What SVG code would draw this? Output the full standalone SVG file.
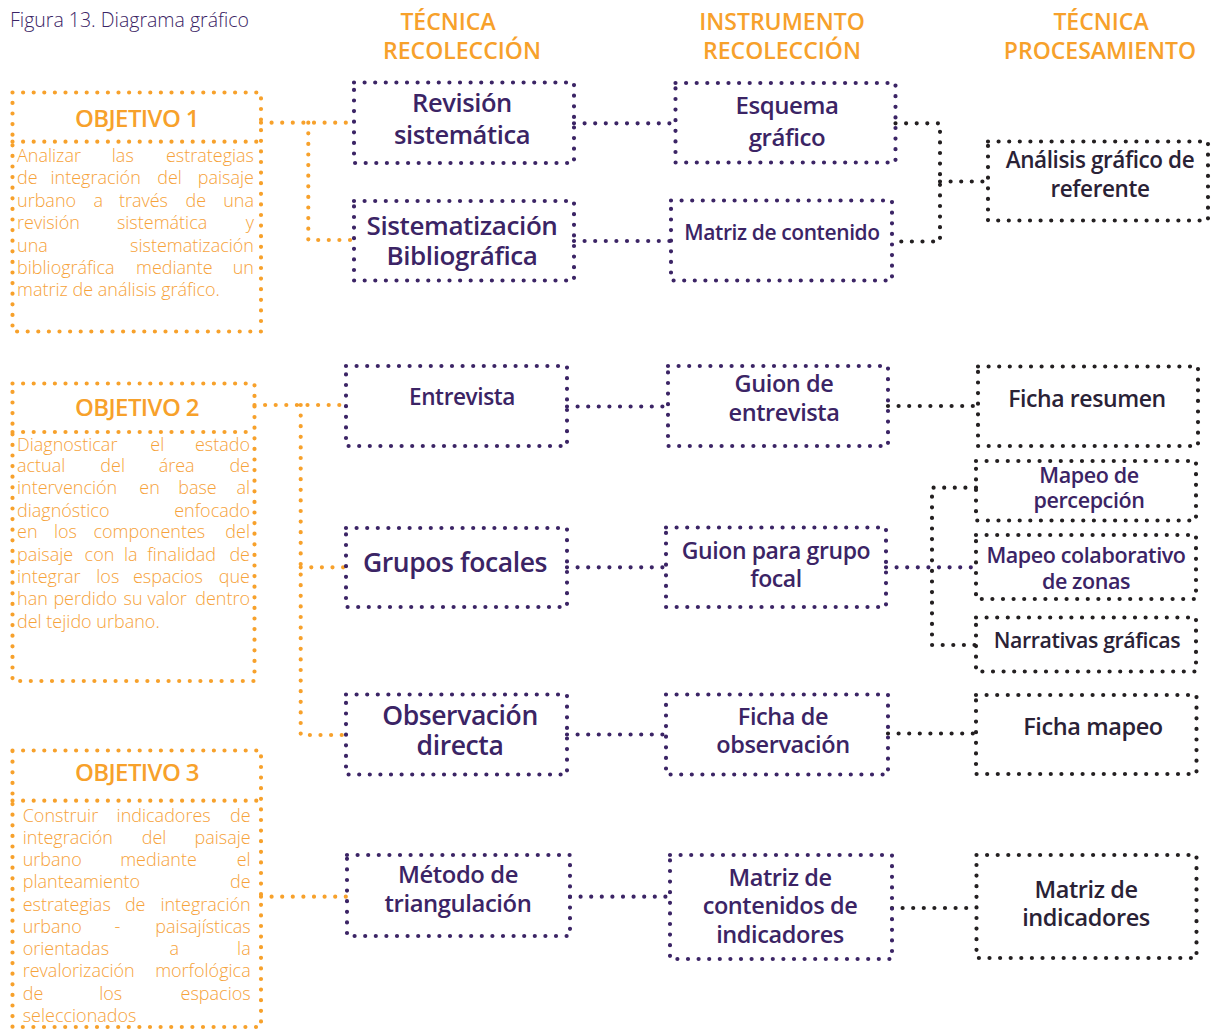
<svg xmlns="http://www.w3.org/2000/svg" width="1213" height="1031" viewBox="0 0 1213 1031">
<style>
.d{fill:none;stroke-width:4.2;stroke-linecap:round;stroke-dasharray:0 10.6}
.o{stroke:#F7A12B}
.p{stroke:#3B2465}
.k{stroke:#231F20}
text{font-family:"Open Sans","Noto Sans","Liberation Sans",sans-serif}
.ti{font-size:19.5px;font-weight:300;fill:#3B2465}
.hd{font-size:23px;font-weight:600;fill:#F7A12B;text-anchor:middle}
.ot{font-size:24px;font-weight:600;fill:#F7A12B;text-anchor:middle;letter-spacing:-0.6px}
.bt{font-size:18px;font-weight:300;fill:#F6A23A}
.e{text-anchor:end}
.lb{font-weight:600;fill:#3B2465;text-anchor:middle;letter-spacing:-0.4px}
.lk{font-weight:600;fill:#2A2236;text-anchor:middle;letter-spacing:-0.4px}
</style>
<rect width="1213" height="1031" fill="#FFFFFF"/>
<text class="ti" x="10" y="27">Figura 13. Diagrama gráfico</text>
<g id="headers">
<text class="hd" x="448" y="30">TÉCNICA</text>
<text class="hd" x="462" y="59">RECOLECCIÓN</text>
<text class="hd" x="782" y="30">INSTRUMENTO</text>
<text class="hd" x="782" y="59">RECOLECCIÓN</text>
<text class="hd" x="1101" y="30">TÉCNICA</text>
<text class="hd" x="1100" y="59">PROCESAMIENTO</text>
</g>
<g id="connectors">
<path class="d o" d="M261,122.7 H354 M308.3,122.7 V240 H354"/>
<path class="d o" d="M254.5,405 H346 M300.7,405 V735 H346 M300.7,567.3 H346"/>
<path class="d o" d="M261,896.7 H347"/>
<path class="d p" d="M574,123.3 H675.5 M574,241 H671 M567,406.5 H668 M567,567.3 H666 M567,734.5 H666 M570,896.7 H670 M886,567.3 H976"/>
<path class="d k" d="M895.5,123.3 H940 V241.5 H892 M940,181.5 H988"/>
<path class="d k" d="M888,406 H978 M976,487.7 H932 V645 H976 M888,733.5 H976 M892,908 H976.5"/>
</g>
<g id="objetivo1">
<rect class="d o" x="12.5" y="92.5" width="248.5" height="239"/>
<path class="d o" d="M12.5,141.7 H261"/>
<text class="ot" x="137" y="127">OBJETIVO 1</text>
<g class="bt">
<text x="17" y="162">Analizar</text><text x="111.8" y="162">las</text><text class="e" x="254" y="162">estrategias</text>
<text x="17" y="184">de</text><text x="50.5" y="184">integración</text><text x="157.2" y="184">del</text><text class="e" x="254" y="184">paisaje</text>
<text x="17" y="207">urbano</text><text x="93.6" y="207">a</text><text x="118.9" y="207">través</text><text x="185.5" y="207">de</text><text class="e" x="254" y="207">una</text>
<text x="17" y="229">revisión</text><text x="116.9" y="229">sistemática</text><text class="e" x="254" y="229">y</text>
<text x="17" y="252">una</text><text class="e" x="254" y="252">sistematización</text>
<text x="17" y="274">bibliográfica</text><text x="136" y="274">mediante</text><text class="e" x="254" y="274">un</text>
<text x="17" y="296">matriz de análisis gráfico.</text>
</g>
</g>
<g id="objetivo2">
<rect class="d o" x="12.5" y="383.5" width="242" height="297.5"/>
<path class="d o" d="M12.5,432 H254.5"/>
<text class="ot" x="137" y="416">OBJETIVO 2</text>
<g class="bt">
<text x="17" y="451">Diagnosticar</text><text x="150.3" y="451">el</text><text class="e" x="250" y="451">estado</text>
<text x="17" y="472">actual</text><text x="100.3" y="472">del</text><text x="158.7" y="472">área</text><text class="e" x="250" y="472">de</text>
<text x="17" y="494">intervención</text><text x="139.3" y="494">en</text><text x="178.2" y="494">base</text><text class="e" x="250" y="494">al</text>
<text x="17" y="517">diagnóstico</text><text class="e" x="250" y="517">enfocado</text>
<text x="17" y="538">en</text><text x="53.9" y="538">los</text><text x="93.5" y="538">componentes</text><text class="e" x="250" y="538">del</text>
<text x="17" y="561">paisaje</text><text x="84.6" y="561">con</text><text x="123.9" y="561">la</text><text x="147.3" y="561">finalidad</text><text class="e" x="250" y="561">de</text>
<text x="17" y="583">integrar</text><text x="96.3" y="583">los</text><text x="132.9" y="583">espacios</text><text class="e" x="250" y="583">que</text>
<text x="17" y="605">han</text><text x="53.4" y="605">perdido</text><text x="123.5" y="605">su</text><text x="147.4" y="605">valor</text><text class="e" x="250" y="605">dentro</text>
<text x="17" y="628">del tejido urbano.</text>
</g>
</g>
<g id="objetivo3">
<rect class="d o" x="12.5" y="750.5" width="248.5" height="276.5"/>
<path class="d o" d="M12.5,800.7 H261"/>
<text class="ot" x="137" y="781">OBJETIVO 3</text>
<g class="bt">
<text x="22.7" y="822">Construir</text><text x="116.6" y="822">indicadores</text><text class="e" x="250.7" y="822">de</text>
<text x="22.7" y="844">integración</text><text x="141.7" y="844">del</text><text class="e" x="250.7" y="844">paisaje</text>
<text x="22.7" y="866">urbano</text><text x="120.2" y="866">mediante</text><text class="e" x="250.7" y="866">el</text>
<text x="22.7" y="888">planteamiento</text><text class="e" x="250.7" y="888">de</text>
<text x="22.7" y="911">estrategias</text><text x="124.9" y="911">de</text><text class="e" x="250.7" y="911">integración</text>
<text x="22.7" y="933">urbano</text><text x="114.6" y="933">-</text><text class="e" x="250.7" y="933">paisajísticas</text>
<text x="22.7" y="955">orientadas</text><text x="169.4" y="955">a</text><text class="e" x="250.7" y="955">la</text>
<text x="22.7" y="977">revalorización</text><text class="e" x="250.7" y="977">morfológica</text>
<text x="22.7" y="1000">de</text><text x="99.2" y="1000">los</text><text class="e" x="250.7" y="1000">espacios</text>
<text x="22.7" y="1022">seleccionados</text>
</g>
</g>
<g id="revision-sistematica">
<rect class="d p" x="354" y="82.5" width="220" height="80.5"/>
<text class="lb" x="462" y="112" font-size="25.5">Revisión</text>
<text class="lb" x="462" y="144" font-size="25.5">sistemática</text>
</g>
<g id="sistematizacion-bibliografica">
<rect class="d p" x="354" y="201" width="220" height="79.5"/>
<text class="lb" x="462" y="235" font-size="26">Sistematización</text>
<text class="lb" x="462" y="265" font-size="26">Bibliográfica</text>
</g>
<g id="esquema-grafico">
<rect class="d p" x="675.5" y="83" width="220" height="79.5"/>
<text class="lb" x="787" y="114" font-size="24">Esquema</text>
<text class="lb" x="787" y="146" font-size="24">gráfico</text>
</g>
<g id="matriz-contenido">
<rect class="d p" x="671" y="200.5" width="221" height="80"/>
<text class="lb" x="782" y="240" font-size="21">Matriz de contenido</text>
</g>
<g id="analisis-grafico">
<rect class="d k" x="988" y="141.5" width="220" height="79"/>
<text class="lk" x="1100" y="168" font-size="22.5">Análisis gráfico de</text>
<text class="lk" x="1100" y="197" font-size="22.5">referente</text>
</g>
<g id="entrevista">
<rect class="d p" x="346" y="366" width="221" height="80"/>
<text class="lb" x="462" y="405" font-size="22.6">Entrevista</text>
</g>
<g id="grupos-focales">
<rect class="d p" x="346" y="528" width="221" height="79"/>
<text class="lb" x="455" y="572" font-size="26.5">Grupos focales</text>
</g>
<g id="observacion-directa">
<rect class="d p" x="346" y="694.5" width="221" height="80"/>
<text class="lb" x="460" y="725" font-size="26.5">Observación</text>
<text class="lb" x="460" y="755" font-size="26.5">directa</text>
</g>
<g id="metodo-triangulacion">
<rect class="d p" x="347" y="855" width="223" height="81"/>
<text class="lb" x="458" y="883" font-size="23.8">Método de</text>
<text class="lb" x="458" y="912" font-size="23.8">triangulación</text>
</g>
<g id="guion-entrevista">
<rect class="d p" x="668" y="366" width="220" height="80"/>
<text class="lb" x="784" y="392" font-size="23.5">Guion de</text>
<text class="lb" x="784" y="421" font-size="23.5">entrevista</text>
</g>
<g id="guion-grupo-focal">
<rect class="d p" x="666" y="527.5" width="220" height="79.5"/>
<text class="lb" x="776" y="559" font-size="23">Guion para grupo</text>
<text class="lb" x="776" y="587" font-size="23">focal</text>
</g>
<g id="ficha-observacion">
<rect class="d p" x="666" y="694.5" width="222" height="80"/>
<text class="lb" x="783" y="725" font-size="23.5">Ficha de</text>
<text class="lb" x="783" y="753" font-size="23.5">observación</text>
</g>
<g id="matriz-contenidos-indicadores">
<rect class="d p" x="670" y="855" width="222" height="104"/>
<text class="lb" x="780" y="886" font-size="23.5">Matriz de</text>
<text class="lb" x="780" y="914" font-size="23.5">contenidos de</text>
<text class="lb" x="780" y="943" font-size="23.5">indicadores</text>
</g>
<g id="ficha-resumen">
<rect class="d k" x="978" y="366.5" width="220" height="79.5"/>
<text class="lk" x="1087" y="407" font-size="23">Ficha resumen</text>
</g>
<g id="mapeo-percepcion">
<rect class="d k" x="976" y="461" width="220" height="59.5"/>
<text class="lb" x="1089" y="483" font-size="21.5">Mapeo de</text>
<text class="lb" x="1089" y="508" font-size="21.5">percepción</text>
</g>
<g id="mapeo-colaborativo">
<rect class="d k" x="976" y="535" width="220" height="64"/>
<text class="lb" x="1086" y="563" font-size="21.5">Mapeo colaborativo</text>
<text class="lb" x="1086" y="589" font-size="21.5">de zonas</text>
</g>
<g id="narrativas-graficas">
<rect class="d k" x="976" y="617.5" width="220" height="54"/>
<text class="lk" x="1087" y="648" font-size="21.3">Narrativas gráficas</text>
</g>
<g id="ficha-mapeo">
<rect class="d k" x="976" y="695" width="220.5" height="79"/>
<text class="lk" x="1093" y="735" font-size="23.5">Ficha mapeo</text>
</g>
<g id="matriz-indicadores">
<rect class="d k" x="976.5" y="855" width="220" height="103"/>
<text class="lk" x="1086" y="898" font-size="23.5">Matriz de</text>
<text class="lk" x="1086" y="926" font-size="23.5">indicadores</text>
</g>
</svg>
